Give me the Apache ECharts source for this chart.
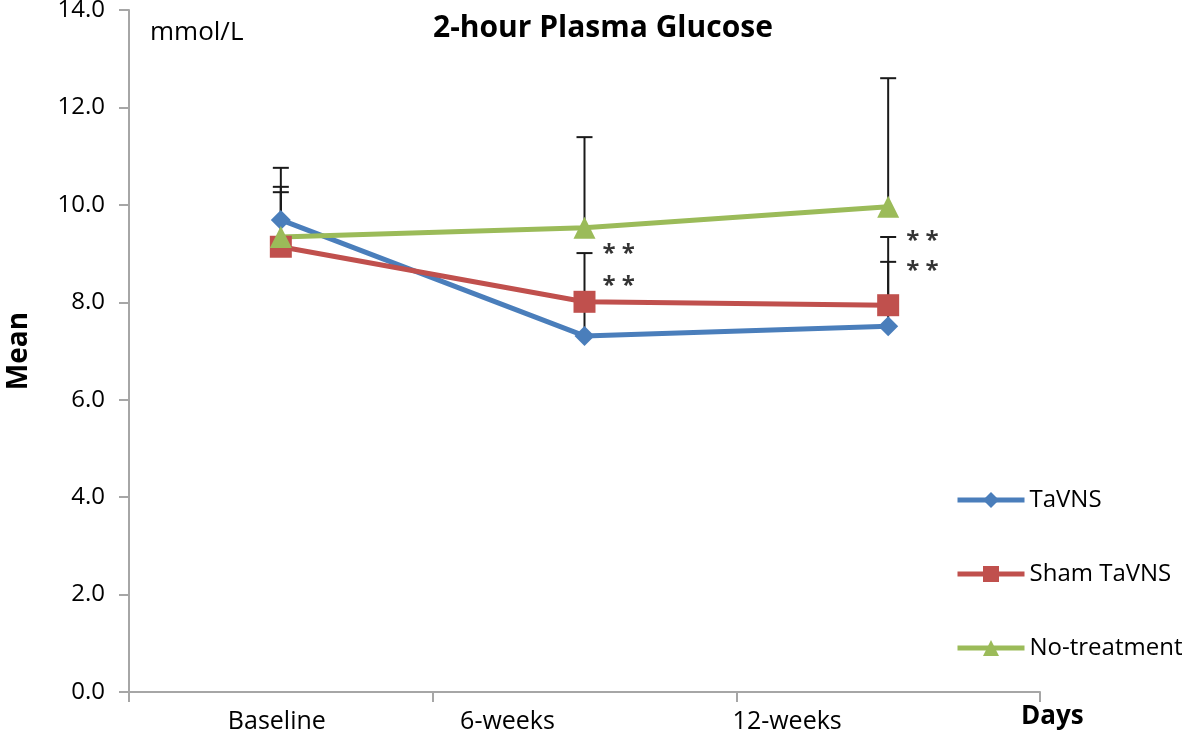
<!DOCTYPE html>
<html><head><meta charset="utf-8">
<script src="https://cdn.jsdelivr.net/npm/echarts@6/dist/echarts.min.js"></script>
<style>html,body{margin:0;padding:0;background:#fff}#c{width:1200px;height:742px}</style>
</head><body><div id="c"></div>
<script>
// ---- data ----
const categories = ['Baseline', '6-weeks', '12-weeks'];
const taVNS = [9.69, 7.31, 7.51];
const shamTaVNS = [9.14, 8.01, 7.94];
const noTreatment = [9.34, 9.53, 9.96];
const taVNSUpper = [10.76, 8.05, 8.83];
const shamUpper = [10.26, 9.01, 9.34];
const noTreatUpper = [10.37, 11.39, 12.60];
const starCats = ['6-weeks', '6-weeks', '12-weeks', '12-weeks'];
const starValues = [9.11, 8.46, 9.38, 8.77];
const starText = '* *';
const seriesNames = ['TaVNS', 'Sham TaVNS', 'No-treatment'];
const xAxisTitle = 'Days';

// ---- styling ----
const FONT = 'Open Sans';
const AXIS_GREY = '#A6A6A6';
const labelShift = [8, 154, 202]; // right padding that shifts each x label left

function errItem(params, api) {
  const x = api.value(0), lo = api.value(1), hi = api.value(2);
  const p0 = api.coord([x, lo]);
  const p1 = api.coord([x, hi]);
  const w = 8;
  const st = { stroke: '#1a1a1a', lineWidth: 2 };
  return {
    type: 'group',
    children: [
      { type: 'line', shape: { x1: p0[0], y1: p0[1], x2: p1[0], y2: p1[1] }, style: st },
      { type: 'line', shape: { x1: p1[0] - w, y1: p1[1], x2: p1[0] + w, y2: p1[1] }, style: st }
    ]
  };
}
function errData(mean, upper) {
  return categories.map((c, i) => [i, mean[i], upper[i]]);
}
const rich = {};
labelShift.forEach((p, i) => {
  rich['l' + i] = { fontFamily: FONT, fontSize: 25, color: '#000', lineHeight: 26, padding: [0, p, 0, 0] };
});

const chart = echarts.init(document.getElementById('c'));
chart.setOption({
  animation: false,
  backgroundColor: '#fff',
  textStyle: { fontFamily: FONT },
  title: [
    { text: '2-hour Plasma Glucose', left: 433, top: 13, padding: 0,
      textStyle: { fontFamily: FONT, fontSize: 30, fontWeight: 'bold', color: '#000' } },
    { text: 'mmol/L', left: 150, top: 20, padding: 0,
      textStyle: { fontFamily: FONT, fontSize: 26, fontWeight: 'normal', color: '#000' } }
  ],
  graphic: [
    { type: 'text', left: 1021, top: 704, silent: true,
      style: { text: xAxisTitle, fontFamily: FONT, fontSize: 26, fontWeight: 'bold', fill: '#000' } }
  ],
  grid: { left: 129, right: 160, top: 10, bottom: 50, outerBoundsMode: 'none', containLabel: false },
  legend: {
    orient: 'vertical', left: 950, top: 483, itemWidth: 67, itemHeight: 20, itemGap: 50,
    data: seriesNames,
    lineStyle: { width: 5 },
    textStyle: { fontFamily: FONT, fontSize: 24, color: '#000', lineHeight: 24 }
  },
  xAxis: {
    type: 'category', data: categories, boundaryGap: true,
    axisLine: { lineStyle: { color: AXIS_GREY, width: 2 } },
    axisTick: { show: true, length: 10, lineStyle: { color: AXIS_GREY, width: 2 } },
    axisLabel: {
      interval: 0, margin: 17,
      formatter: (v, i) => '{l' + i + '|' + v + '}',
      rich: rich
    }
  },
  yAxis: {
    type: 'value', min: 0, max: 14, interval: 2,
    splitLine: { show: false },
    axisLine: { show: true, lineStyle: { color: AXIS_GREY, width: 2 } },
    axisTick: { show: true, length: 10, lineStyle: { color: AXIS_GREY, width: 2 } },
    axisLabel: { fontFamily: FONT, fontSize: 24, color: '#000', margin: 24,
      formatter: v => v.toFixed(1) },
    name: 'Mean', nameLocation: 'middle', nameGap: 96, nameRotate: 90,
    nameTextStyle: { fontFamily: FONT, fontSize: 28, fontWeight: 'bold', color: '#000' }
  },
  series: [
    { type: 'custom', name: 'errTaVNS', renderItem: errItem, data: errData(taVNS, taVNSUpper),
      encode: { x: 0, y: [1, 2] }, z: 1, silent: true },
    { type: 'custom', name: 'errSham', renderItem: errItem, data: errData(shamTaVNS, shamUpper),
      encode: { x: 0, y: [1, 2] }, z: 1, silent: true },
    { type: 'custom', name: 'errNo', renderItem: errItem, data: errData(noTreatment, noTreatUpper),
      encode: { x: 0, y: [1, 2] }, z: 1, silent: true },
    { type: 'line', name: seriesNames[0], data: taVNS, symbol: 'diamond', symbolSize: 20,
      itemStyle: { color: '#4A7EBB' }, lineStyle: { color: '#4A7EBB', width: 5 }, z: 3 },
    { type: 'line', name: seriesNames[1], data: shamTaVNS, symbol: 'rect', symbolSize: 22,
      itemStyle: { color: '#C0504D' }, lineStyle: { color: '#C0504D', width: 5 }, z: 3 },
    { type: 'line', name: seriesNames[2], data: noTreatment, symbol: 'triangle', symbolSize: 22,
      itemStyle: { color: '#9BBB59' }, lineStyle: { color: '#9BBB59', width: 5 }, z: 3 },
    { type: 'scatter', name: 'sig', data: starCats.map((c, i) => [c, starValues[i]]),
      symbolSize: 0, silent: true, z: 5,
      label: { show: true, formatter: starText, position: 'right', distance: 18,
        fontFamily: FONT, fontSize: 24, fontWeight: 'bold', color: '#000', offset: [0, 6] } }
  ]
});
</script>
</body></html>
